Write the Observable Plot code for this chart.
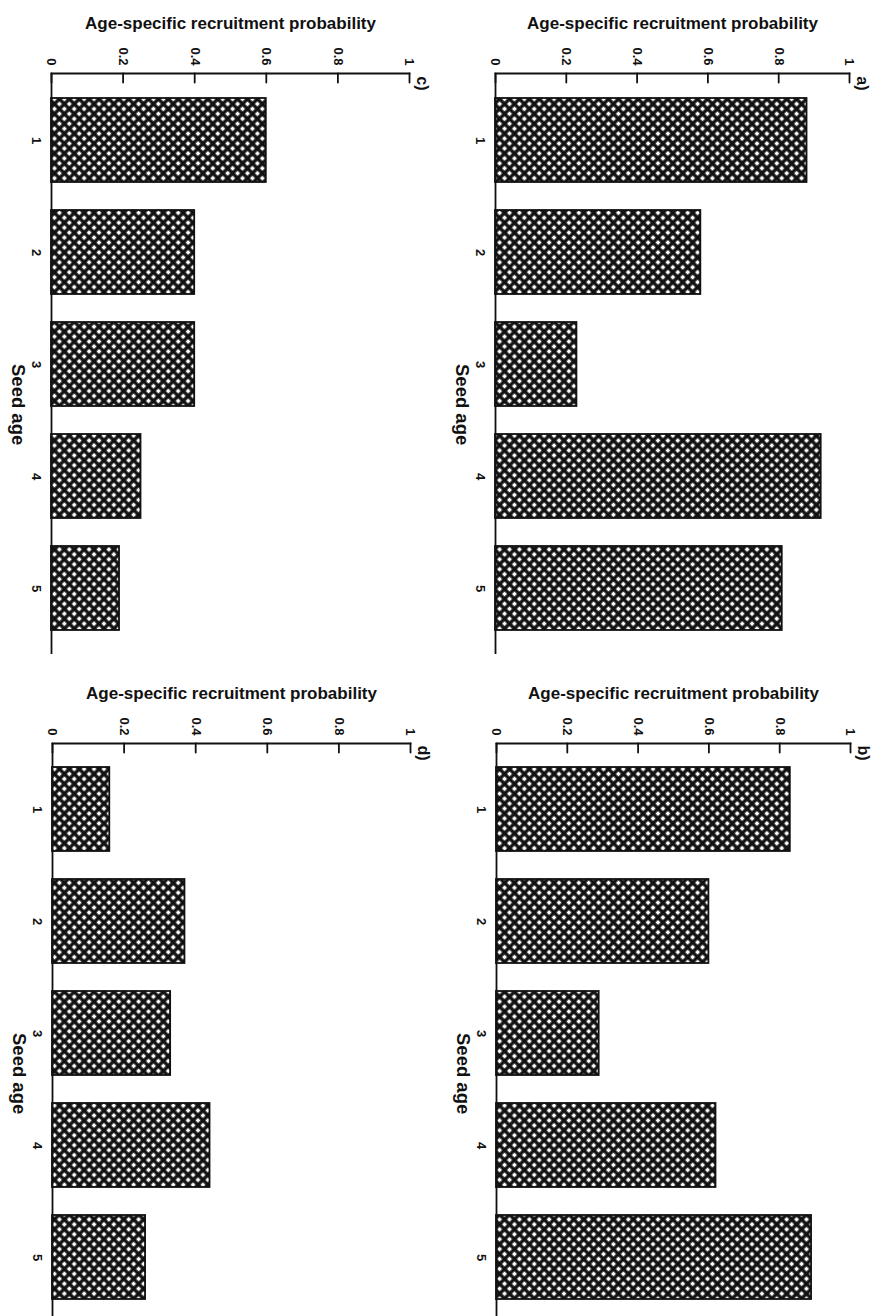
<!DOCTYPE html>
<html><head><meta charset="utf-8">
<script src="https://cdn.jsdelivr.net/npm/d3@7"></script>
<script src="https://cdn.jsdelivr.net/npm/@observablehq/plot@0.6"></script>
<style>
html,body{margin:0;padding:0;background:#fff;overflow:hidden;}
#grid{display:grid;grid-template-columns:460px 419px;grid-template-rows:670px 652px;width:879px;height:1322px;overflow:hidden;}
#grid svg{display:block;}
</style></head><body>
<svg width="0" height="0" style="position:absolute">
<defs><pattern id="xhatch" width="7" height="7" patternUnits="userSpaceOnUse" patternTransform="rotate(45)">
<rect width="7" height="7" fill="#111"/><rect x="1.7" y="1.7" width="3.6" height="3.6" fill="#fff"/></pattern></defs></svg>
<div id="grid"></div>
<script>
const seedAges = [1, 2, 3, 4, 5];
const probA = [0.88, 0.58, 0.23, 0.92, 0.81];
const probB = [0.83, 0.60, 0.29, 0.62, 0.89];
const probC = [0.60, 0.40, 0.40, 0.25, 0.19];
const probD = [0.16, 0.37, 0.33, 0.44, 0.26];
const xTicks = [0, 0.2, 0.4, 0.6, 0.8, 1];
const xTitle = "Age-specific recruitment probability";
const yTitle = "Seed age";

// inward-pointing tick marks hanging below the top axis line
const tickShape = {draw(context, l) { context.moveTo(0, 0); context.lineTo(0, l); }};

function panel(values, tag, dims) {
  const data = seedAges.map((age, i) => ({age, value: values[i]}));
  return Plot.plot({
    ...dims,
    style: {fontFamily: "'Liberation Sans', Arial, sans-serif", background: "white", overflow: "visible", color: "#111"},
    x: {domain: [0, 1]},
    y: {type: "band", domain: seedAges, paddingInner: 0.25, paddingOuter: 0.2},
    marks: [
      Plot.barX(data, {x: "value", y: "age", fill: "url(#xhatch)", stroke: "#111", strokeWidth: 1.8}),
      Plot.frame({anchor: "top", strokeWidth: 1.8}),
      Plot.ruleX([0], {strokeWidth: 1.8}),
      Plot.vector(xTicks, {x: d => d, frameAnchor: "top", length: 9, anchor: "start", shape: tickShape, stroke: "#111", strokeWidth: 1.8}),
      Plot.axisX(xTicks, {anchor: "top", tickSize: 0, tickRotate: 90, tickPadding: 8, fontSize: 13, fontWeight: "bold", label: null, tickFormat: d => String(d)}),
      Plot.axisY(seedAges, {anchor: "left", tickSize: 0, tickRotate: 90, tickPadding: 10, fontSize: 13, fontWeight: "bold", label: null}),
      Plot.text([xTitle], {frameAnchor: "top", dy: -45, lineAnchor: "bottom", fontSize: 17, fontWeight: "bold", text: d => d}),
      Plot.text([yTitle], {frameAnchor: "left", dx: -34, rotate: 90, lineAnchor: "middle", fontSize: 18.5, fontWeight: "bold", text: d => d}),
      Plot.text([tag], {frameAnchor: "top-right", dx: 13, dy: 17, rotate: 90, lineAnchor: "middle", fontSize: 16, fontWeight: "bold", text: d => d})
    ]
  });
}

const grid = document.getElementById("grid");
grid.append(
  panel(probC, "c)", {width: 460, height: 670, marginLeft: 51, marginRight: 51, marginTop: 73, marginBottom: 16}),
  panel(probA, "a)", {width: 419, height: 670, marginLeft: 35, marginRight: 30, marginTop: 73, marginBottom: 16}),
  panel(probD, "d)", {width: 460, height: 652, marginLeft: 52, marginRight: 50, marginTop: 73, marginBottom: 0}),
  panel(probB, "b)", {width: 419, height: 652, marginLeft: 36, marginRight: 29, marginTop: 73, marginBottom: 0})
);
</script>
</body></html>
